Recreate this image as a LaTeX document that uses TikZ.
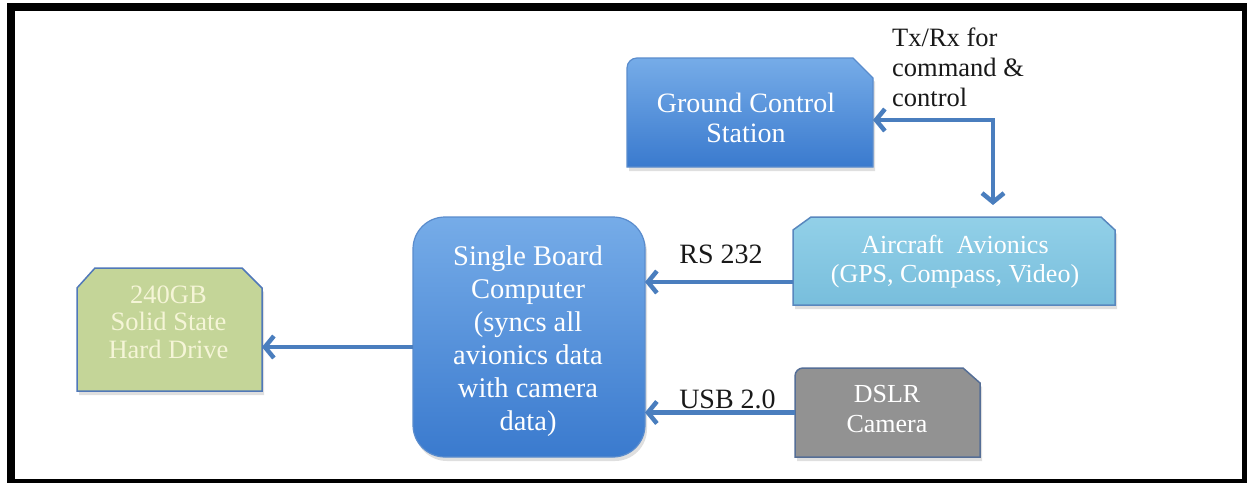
\documentclass[tikz,border=0pt]{standalone}
\usepackage{fontspec}
\setmainfont{Liberation Serif}
\usetikzlibrary{arrows.meta,shadows}
\definecolor{arrowblue}{RGB}{74,126,190}
\definecolor{gcstop}{RGB}{118,172,232}
\definecolor{gcsbot}{RGB}{58,122,206}
\definecolor{gcsedge}{RGB}{90,140,205}
\definecolor{avtop}{RGB}{146,208,232}
\definecolor{avbot}{RGB}{120,190,220}
\definecolor{avedge}{RGB}{88,135,190}
\definecolor{ssdfill}{RGB}{196,213,152}
\definecolor{ssdedge}{RGB}{80,120,185}
\definecolor{dslrfill}{RGB}{146,146,146}
\definecolor{dslredge}{RGB}{85,110,150}
\definecolor{ssdtext}{RGB}{245,245,215}
\begin{document}
\begin{tikzpicture}[x=1pt,y=-1pt,
  area/.style={inner sep=0pt,outer sep=0pt,draw=none},
  boxshadow/.style={drop shadow={opacity=0.25,shadow xshift=2pt,shadow yshift=-4pt}},
  boxtext/.style={align=center,text=white,inner sep=0pt,anchor=base,
    font=\fontsize{28}{30}\selectfont},
  label/.style={inner sep=0pt,anchor=base,text=black!90,
    font=\fontsize{28}{30}\selectfont},
  arr/.style={draw=arrowblue,line width=4.5pt,
    -{Straight Barb[length=9pt,width=22pt]}},
  darr/.style={draw=arrowblue,line width=4.5pt,
    {Straight Barb[length=9pt,width=22pt]}-{Straight Barb[length=9pt,width=22pt]}}]
\useasboundingbox (0,0) rectangle (1247,483);
% frame
\fill[black] (7,3) rectangle (1247,483);
\fill[white] (15,11) rectangle (1242,479);

% node areas
\node[area,minimum width=246pt,minimum height=109pt] (gcs) at (750,112.5) {};
\node[area,minimum width=232pt,minimum height=240pt] (sbc) at (529,337) {};
\node[area,minimum width=322pt,minimum height=88pt] (av) at (954,261) {};
\node[area,minimum width=185pt,minimum height=123pt] (ssd) at (169.5,329.5) {};
\node[area,minimum width=185pt,minimum height=89pt] (dslr) at (887.5,412.5) {};

% shapes
\path[boxshadow,draw=gcsedge,line width=1.2pt,top color=gcstop,bottom color=gcsbot]
  (gcs.south west) [rounded corners=10pt] -- (gcs.north west) [sharp corners]
  -- ([xshift=-20pt]gcs.north east) -- ([yshift=-20pt]gcs.north east)
  -- (gcs.south east) -- cycle;
\path[boxshadow,draw=gcsedge,line width=1.2pt,top color=gcstop,bottom color=gcsbot,
  rounded corners=32pt] (sbc.south west) rectangle (sbc.north east);
\path[boxshadow,draw=avedge,line width=1.5pt,top color=avtop,bottom color=avbot]
  (av.south west) -- ([yshift=-13pt]av.north west) -- ([xshift=18pt]av.north west)
  -- ([xshift=-14pt]av.north east) -- ([yshift=-13pt]av.north east)
  -- (av.south east) -- cycle;
\path[boxshadow,draw=ssdedge,line width=1.5pt,fill=ssdfill]
  (ssd.south west) -- ([yshift=-20pt]ssd.north west) -- ([xshift=18pt]ssd.north west)
  -- ([xshift=-20pt]ssd.north east) -- ([yshift=-20pt]ssd.north east)
  -- (ssd.south east) -- cycle;
\path[boxshadow,draw=dslredge,line width=1.5pt,fill=dslrfill]
  (dslr.south west) [rounded corners=8pt] -- (dslr.north west) [sharp corners]
  -- ([xshift=-17pt]dslr.north east) -- ([yshift=-15pt]dslr.north east)
  -- (dslr.south east) -- cycle;

% texts (base anchor = baseline of last line)
\node[boxtext] (gcst) at (746,142) {Ground Control\\Station};
\node[boxtext,font=\fontsize{28.5}{33}\selectfont] (sbct) at (528,430)
  {Single Board\\Computer\\(syncs all\\avionics data\\with camera\\data)};
\node[boxtext,font=\fontsize{26}{29}\selectfont] (avt) at (955,282)
  {Aircraft\ \ Avionics\\(GPS, Compass, Video)};
\node[boxtext,text=ssdtext,font=\fontsize{26.5}{27.5}\selectfont] (ssdt) at (168.5,358)
  {240GB\\Solid State\\Hard Drive};
\node[boxtext,font=\fontsize{26}{30}\selectfont] (dslrt) at (887,432) {DSLR\\Camera};

\node[label] (rs) at (721,263) {RS 232};
\node[label] (usb) at (727.5,408) {USB 2.0};
\node[label,align=left,anchor=base west,font=\fontsize{26.5}{30}\selectfont] (txrx) at (892,106)
  {Tx/Rx for\\command \&\\control};

% connectors
\draw[darr] ([yshift=-7.5pt]gcs.east) -| ([xshift=39pt,yshift=12pt]av.north);
\draw[arr] ([yshift=-21pt]av.west) -- ([yshift=-21pt]av.west -| sbc.east);
\draw[arr] (dslr.west) -- (dslr.west -| sbc.east);
\draw[arr] ([yshift=-10pt]sbc.west) -- ([yshift=-10pt]sbc.west -| ssd.east);
\end{tikzpicture}
\end{document}
